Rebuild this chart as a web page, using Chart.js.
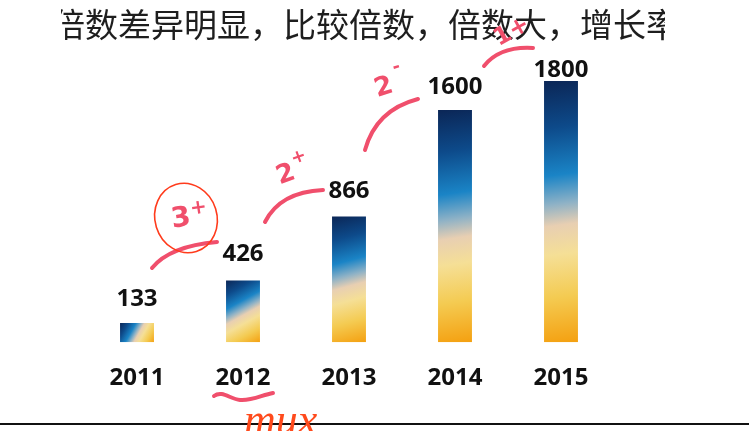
<!DOCTYPE html>
<html><head><meta charset="utf-8">
<style>html,body{margin:0;padding:0;background:#fff;overflow:hidden}#wrap{width:749px;height:431px;position:relative}</style>
<script src="https://cdn.jsdelivr.net/npm/chart.js@4"></script>
</head><body><div id="wrap"><canvas id="c" width="749" height="431"></canvas></div>
<script>
// ---- data ----
const categories = ['2011', '2012', '2013', '2014', '2015'];
const values = [133, 426, 866, 1600, 1800];
const titleText = '倍数差异明显，比较倍数，倍数大，增长率';
const yMin = 0;
const yMax = 1800;

// ---- style ----
const labelGaps = [17, 19, 19, 16, 4];
const gradientStops = [
  [0.00, '#0b2656'],
  [0.18, '#0d4a8a'],
  [0.36, '#1a84c6'],
  [0.47, '#8fb2c6'],
  [0.55, '#e8cfb2'],
  [0.66, '#f5df96'],
  [0.82, '#f4cb52'],
  [1.00, '#f4a010']
];
const pink = '#f04f6c';

function barGradient(ctx) {
  const chart = ctx.chart;
  const xs = chart.scales.x, ys = chart.scales.y;
  if (!xs || !ys || ctx.type !== 'data' || !chart.chartArea) return '#1a84c6';
  const top = ys.getPixelForValue(ctx.raw);
  const bot = ys.getPixelForValue(0);
  const cx = xs.getPixelForValue(ctx.dataIndex);
  if (![top, bot, cx].every(Number.isFinite)) return '#1a84c6';
  const g = chart.ctx.createLinearGradient(cx - 17, top, cx + 17, bot);
  gradientStops.forEach(s => g.addColorStop(s[0], s[1]));
  return g;
}

const valueLabels = {
  id: 'valueLabels',
  afterDatasetsDraw(chart) {
    const c = chart.ctx;
    const meta = chart.getDatasetMeta(0);
    c.save();
    c.font = 'bold 24px "Open Sans", sans-serif';
    c.fillStyle = '#111';
    c.textAlign = 'center';
    c.textBaseline = 'alphabetic';
    meta.data.forEach((bar, i) => {
      c.fillText(String(values[i]), bar.x, bar.y - labelGaps[i]);
    });
    c.restore();
  }
};

const overlay = {
  id: 'overlay',
  afterDraw(chart) {
    const c = chart.ctx;
    c.save();
    // title (cropped)
    c.save();
    c.beginPath();
    c.rect(61, 0, 604, 60);
    c.clip();
    c.font = '33px "Noto Sans CJK SC", sans-serif';
    c.fillStyle = '#1e1e1e';
    c.textAlign = 'left';
    c.textBaseline = 'middle';
    c.fillText(titleText, 52, 24);
    c.restore();

    // bottom rule
    c.fillStyle = '#111';
    c.fillRect(0, 423, 749, 2);

    // handwritten strokes
    c.strokeStyle = pink;
    c.lineWidth = 4;
    c.lineCap = 'round';
    c.lineJoin = 'round';
    c.beginPath(); c.moveTo(152, 268); c.quadraticCurveTo(170, 246, 217, 242); c.stroke();
    c.beginPath(); c.moveTo(265, 222); c.quadraticCurveTo(280, 192, 323, 190); c.stroke();
    c.beginPath(); c.moveTo(365, 150); c.quadraticCurveTo(376, 110, 418, 99); c.stroke();
    c.beginPath(); c.moveTo(484, 66); c.quadraticCurveTo(500, 46, 533, 48); c.stroke();
    c.beginPath(); c.moveTo(214, 396); c.bezierCurveTo(222, 390, 230, 399, 240, 400); c.bezierCurveTo(252, 401, 262, 395, 273, 393); c.stroke();

    // circle around 3+
    c.strokeStyle = '#ff3b1c';
    c.lineWidth = 1.6;
    c.beginPath(); c.ellipse(186, 218, 31, 35, -0.3, 0, Math.PI * 2); c.stroke();

    // handwritten text
    c.fillStyle = pink;
    c.textAlign = 'center';
    c.textBaseline = 'middle';
    c.save(); c.translate(181, 219); c.rotate(-0.15);
    c.font = 'bold 28px "DejaVu Sans", sans-serif'; c.fillText('3', 0, 0);
    c.font = 'bold 20px "DejaVu Sans", sans-serif'; c.fillText('+', 19, -8);
    c.restore();
    c.save(); c.translate(286, 175); c.rotate(-0.35);
    c.font = 'bold 26px "DejaVu Sans", sans-serif'; c.fillText('2', 0, 0);
    c.font = 'bold 18px "DejaVu Sans", sans-serif'; c.fillText('+', 18, -12);
    c.restore();
    c.save(); c.translate(384, 88); c.rotate(-0.3);
    c.font = 'bold 26px "DejaVu Sans", sans-serif'; c.fillText('2', 0, 0);
    c.font = 'bold 18px "DejaVu Sans", sans-serif'; c.fillText('-', 18, -16);
    c.restore();
    c.save(); c.translate(512, 32); c.rotate(-0.5);
    c.font = 'bold 24px "DejaVu Sans", sans-serif'; c.fillText('1+', 0, 0);
    c.restore();
    c.fillStyle = '#ff4a1c';
    c.font = 'italic 44px "Liberation Serif", serif';
    c.textAlign = 'left';
    c.textBaseline = 'alphabetic';
    c.fillText('mux', 244, 434);
    c.restore();
  }
};

new Chart(document.getElementById('c'), {
  type: 'bar',
  data: {
    labels: categories,
    datasets: [{
      data: values,
      backgroundColor: barGradient,
      borderWidth: 0,
      categoryPercentage: 1,
      barPercentage: 0.32
    }]
  },
  options: {
    responsive: false,
    animation: false,
    devicePixelRatio: 1,
    layout: { padding: { left: 84, right: 135, top: 81, bottom: 16 } },
    plugins: { legend: { display: false }, tooltip: { enabled: false }, title: { display: false } },
    scales: {
      x: {
        grid: { display: false, drawTicks: false },
        border: { display: false },
        ticks: { color: '#111', padding: 22, font: { family: '"Open Sans", sans-serif', size: 24, weight: 'bold' } }
      },
      y: { display: false, min: yMin, max: yMax }
    }
  },
  plugins: [valueLabels, overlay]
});
</script></body></html>
